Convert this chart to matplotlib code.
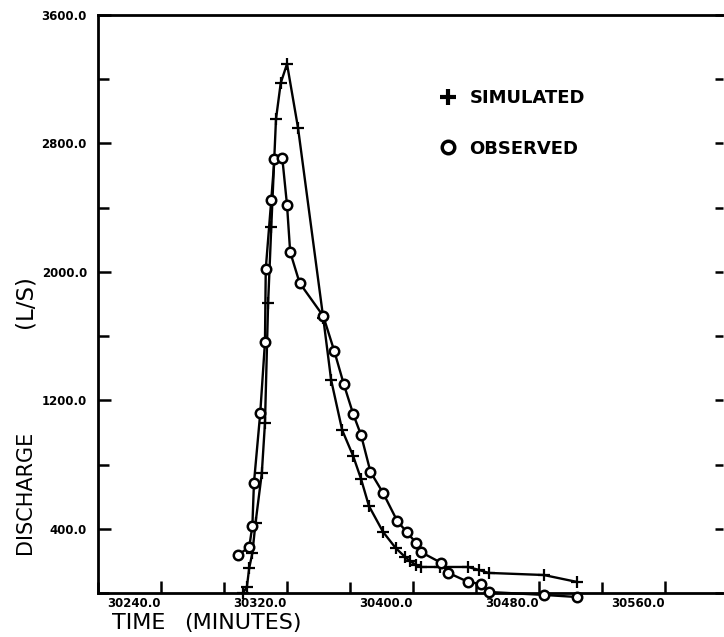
import matplotlib
matplotlib.use("Agg")
import matplotlib.pyplot as plt
from matplotlib.lines import Line2D
from matplotlib.ticker import MultipleLocator, FormatStrFormatter, NullFormatter

# Hydrograph: simulated vs observed discharge
sim_time = [30292, 30294.5, 30296, 30298, 30300, 30304, 30306, 30308, 30310,
            30313, 30316, 30320, 30327, 30343, 30348, 30355, 30362, 30367,
            30372, 30381, 30389, 30395, 30398, 30402, 30405, 30417, 30435,
            30442, 30448, 30483, 30504]
sim_q = [0, 37, 156, 249, 436, 747, 1059, 1806, 2279,
         2952, 3176, 3295, 2896, 1713, 1327, 1015, 853, 710,
         542, 380, 280, 224, 199, 174, 162, 162, 162,
         143, 125, 112, 69]

obs_time = [30289, 30296, 30298, 30299, 30303, 30306, 30306.5, 30310, 30312,
            30317, 30320, 30322, 30328, 30343, 30350, 30356, 30362, 30367,
            30373, 30381, 30390, 30396, 30402, 30405, 30418, 30422.5, 30435,
            30443, 30448.5, 30483, 30504]
obs_q = [237, 286, 417, 685, 1121, 1563, 2018, 2448, 2703,
         2709, 2416, 2124, 1931, 1725, 1507, 1302, 1115, 984,
         754, 623, 448, 380, 311, 255, 187, 125, 69,
         56, 6, -12, -25]

x_labels = [30240, 30320, 30400, 30480, 30560]
y_labels = [400, 1200, 2000, 2800, 3600]

fig = plt.figure(figsize=(7.24, 6.37), dpi=100)
ax = fig.add_axes([0.1354, 0.0691, 0.8636, 0.9074])

ax.plot(sim_time, sim_q, color="black", lw=1.7, marker="+", ms=8, mew=1.6,
        clip_on=False, zorder=3)
ax.plot(obs_time, obs_q, color="black", lw=1.7, marker="o", ms=6.8, mew=1.8,
        mfc="white", mec="black", clip_on=False, zorder=4)

ax.set_xlim(30200, 30597)
ax.set_ylim(0, 3600)

ax.xaxis.set_minor_locator(MultipleLocator(40))
ax.yaxis.set_minor_locator(MultipleLocator(400))
ax.set_xticks(x_labels)
ax.set_yticks(y_labels)
ax.xaxis.set_major_formatter(FormatStrFormatter("%.1f"))
ax.yaxis.set_major_formatter(FormatStrFormatter("%.1f"))

ax.tick_params(which="both", direction="in", length=9, width=1.8,
               left=True, bottom=True, right=False, top=False)
ax.tick_params(which="minor", length=8)
ax.tick_params(axis="y", pad=8)
ax.tick_params(axis="x", pad=3)
for lab in ax.get_xticklabels():
    lab.set_ha("right")
    lab.set_fontsize(8.5)
    lab.set_fontweight("bold")
for lab in ax.get_yticklabels():
    lab.set_fontsize(8.5)
    lab.set_fontweight("bold")

for side in ("left", "bottom", "top"):
    ax.spines[side].set_linewidth(2.0)
ax.spines["right"].set_visible(False)

# short unlabeled ticks along the right edge
rax = ax.twinx()
rax.set_ylim(ax.get_ylim())
rax.yaxis.set_major_locator(MultipleLocator(400))
rax.yaxis.set_major_formatter(NullFormatter())
rax.tick_params(axis="y", direction="in", length=6, width=1.8)
for s in rax.spines.values():
    s.set_visible(False)

fig.text(25 / 724, 1 - 492 / 637, "DISCHARGE", rotation=90,
         ha="center", va="center", fontsize=15)
fig.text(25 / 724, 1 - 302 / 637, "(L/S)", rotation=90,
         ha="center", va="center", fontsize=16.5)
fig.text(112 / 724, 1 - 623 / 637, "TIME", ha="left", va="center",
         fontsize=16)
fig.text(184 / 724, 1 - 623 / 637, "(MINUTES)", ha="left", va="center",
         fontsize=16)

handles = [Line2D([], [], color="black", ls="none", marker="+", ms=12, mew=3),
           Line2D([], [], color="black", ls="none", marker="o", ms=9, mew=2.5,
                  mfc="white")]
ax.legend(handles, ["SIMULATED", "OBSERVED"], loc="upper left",
          bbox_to_anchor=(0.522, 0.9), frameon=False, handlelength=0.8,
          handletextpad=0.8, labelspacing=1.8,
          prop={"weight": "bold", "size": 13})

fig.savefig("out.png", dpi=100, facecolor="white")
